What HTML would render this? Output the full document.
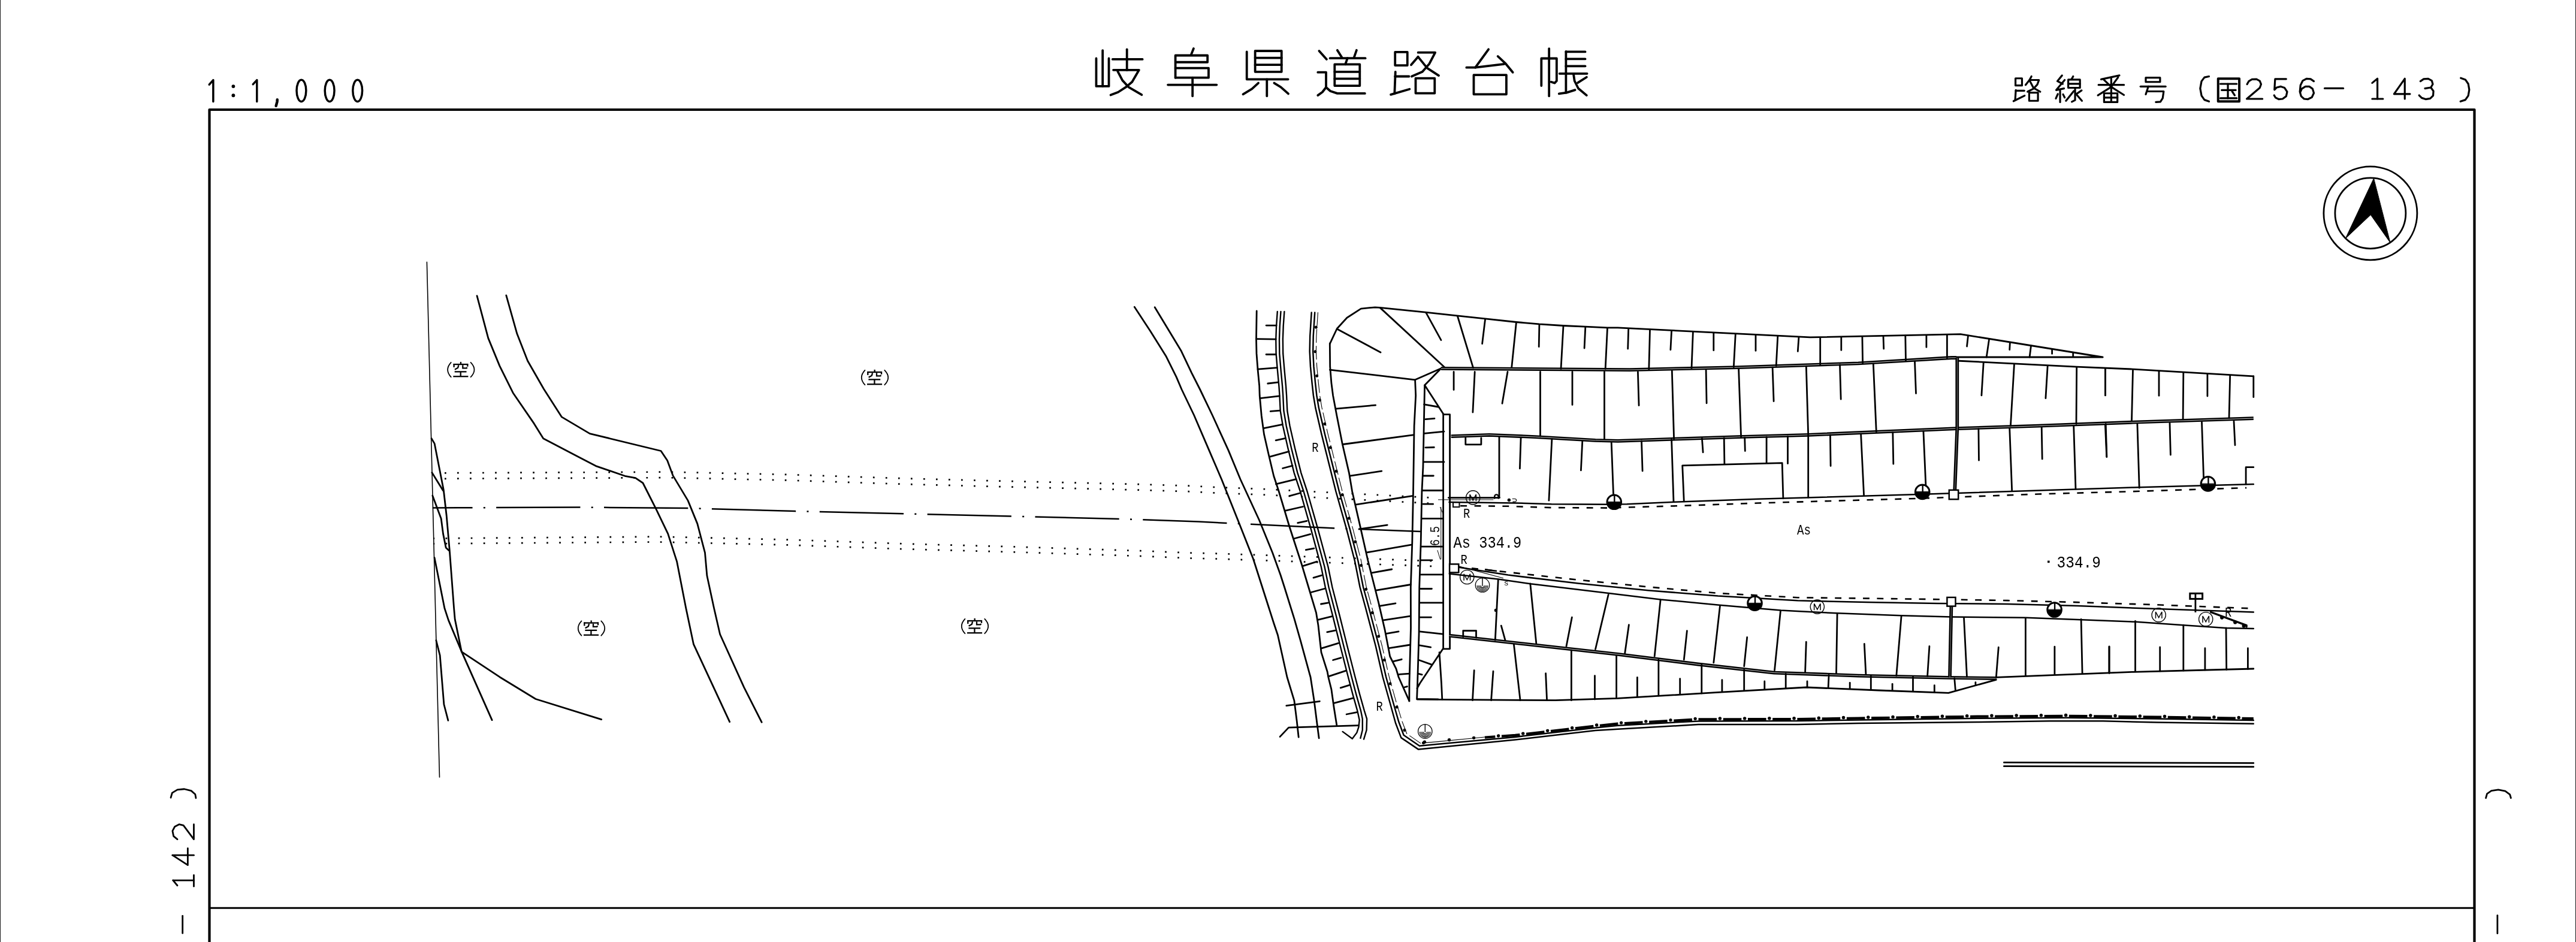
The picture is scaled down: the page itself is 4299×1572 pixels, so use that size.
<!DOCTYPE html>
<html><head><meta charset="utf-8"><title>岐阜県道路台帳</title>
<style>
html,body{margin:0;padding:0;background:#fff;}
body{width:4299px;height:1572px;overflow:hidden;font-family:"Liberation Sans",sans-serif;}
svg{display:block;will-change:transform;transform:translateZ(0)}
</style></head><body>
<svg width="4299" height="1572" viewBox="0 0 4299 1572" fill="none" stroke="#000" stroke-linecap="round" stroke-linejoin="round" font-family="Liberation Sans, sans-serif">
<rect x="0" y="0" width="4299" height="1572" fill="#fff" stroke="none"/>
<g stroke-linecap="butt" stroke-linejoin="miter">
<rect x="0" y="0" width="1.1" height="1572" fill="#2c2c2c" stroke="none"/>
<rect x="4297.9" y="0" width="1.1" height="1572" fill="#2c2c2c" stroke="none"/>
<polyline points="349.5,1572 349.5,183 4129.5,183 4129.5,1572" stroke-width="4.2" stroke-linejoin="round"/>
<line x1="349.5" y1="1515.2" x2="4129.5" y2="1515.2" stroke-width="3.0"/>
</g>
<g transform="translate(1800,60) scale(0.178571)" stroke-width="21.28" >
<polyline points="165,210 165,470 283,470 283,210"/>
<polyline points="225,135 225,470"/>
<polyline points="452,125 452,320"/>
<polyline points="318,218 597,218"/>
<polyline points="325,318 565,318 500,430 440,480 370,525 300,552"/>
<polyline points="365,330 410,415 470,480 590,550"/>
<polyline points="1075,118 1050,180"/>
<polyline points="905,390 905,182 1205,182 1205,245 905,245"/>
<polyline points="905,300 1215,300 1215,390 905,390"/>
<polyline points="835,457 1290,457"/>
<polyline points="1065,390 1065,562"/>
<polyline points="1572,148 1572,405 1958,405"/>
<polygon points="1650,140 1897,140 1897,335 1650,335"/>
<polyline points="1650,205 1897,205"/>
<polyline points="1650,270 1897,270"/>
<polyline points="1760,405 1760,562"/>
<polyline points="1680,440 1620,495 1537,545"/>
<polyline points="1828,440 1890,478 1960,540"/>
</g>
<g transform="translate(2180,60) scale(0.178571)" stroke-width="21.28" >
<polyline points="120,140 190,218"/>
<polyline points="290,133 335,205"/>
<polyline points="470,133 445,205"/>
<polyline points="222,208 552,208"/>
<polyline points="385,208 365,265"/>
<polygon points="265,265 500,265 500,465 265,465"/>
<polyline points="265,335 500,335"/>
<polyline points="265,400 500,400"/>
<polyline points="108,340 185,340 185,480 150,525 108,555"/>
<polyline points="185,480 225,515 290,537 548,537"/>
<polygon points="830,150 945,150 945,275 830,275"/>
<polyline points="833,335 825,540"/>
<polyline points="830,378 960,378"/>
<polyline points="790,548 965,497"/>
<polyline points="1045,155 1205,155 1150,260 1085,335 985,378"/>
<polyline points="1045,195 980,270"/>
<polyline points="1045,195 1130,300 1238,370"/>
<polygon points="1022,395 1200,395 1200,535 1022,535"/>
<polyline points="1703,125 1580,295"/>
<polyline points="1497,295 1580,295 1850,262"/>
<polyline points="1790,190 1860,255 1930,340"/>
<polygon points="1565,365 1870,365 1870,545 1565,545"/>
</g>
<g transform="translate(2500,60) scale(0.178571)" stroke-width="21.28" >
<polyline points="477,118 477,562"/>
<polyline points="405,465 405,210 548,210 548,420 530,440 497,430"/>
<polyline points="635,145 635,530"/>
<polyline points="635,148 815,148"/>
<polyline points="635,215 815,215"/>
<polyline points="635,282 815,282"/>
<polyline points="575,352 832,352"/>
<polyline points="570,540 640,530 720,505"/>
<polyline points="705,352 715,420 750,490 828,555"/>
<polyline points="828,385 745,437"/>
</g>
<g transform="translate(3350,115) scale(0.108696)" stroke-width="29.44" >
<polygon points="125,145 225,145 225,255 125,255"/>
<polyline points="130,325 120,480"/>
<polyline points="130,335 260,335"/>
<polyline points="95,495 265,410"/>
<polyline points="370,115 340,170 280,245"/>
<polyline points="340,170 485,170 460,240 400,305 310,350"/>
<polyline points="345,185 400,290 505,350"/>
<polygon points="335,365 470,365 470,490 335,490"/>
<polyline points="840,100 768,188 850,230"/>
<polyline points="880,170 750,325 870,300"/>
<polyline points="810,330 810,510"/>
<polyline points="775,385 745,455"/>
<polyline points="855,390 880,440"/>
<polyline points="1010,115 985,160"/>
<polygon points="935,165 1115,165 1115,290 935,290"/>
<polyline points="935,228 1115,228"/>
<polyline points="1040,290 1040,480 990,505"/>
<polyline points="1020,340 900,490"/>
<polyline points="1140,330 1060,385"/>
<polyline points="1050,380 1145,490"/>
<polyline points="1440,160 1720,100"/>
<polyline points="1400,245 1790,245"/>
<polyline points="1595,130 1595,500"/>
<polyline points="1700,130 1590,280 1390,405"/>
<polyline points="1480,165 1600,280 1790,400"/>
<polygon points="1485,375 1690,375 1690,510 1485,510"/>
<polyline points="1485,440 1690,440"/>
<polygon points="2125,135 2345,135 2345,200 2125,200"/>
<polyline points="2045,270 2430,270"/>
<polyline points="2165,270 2125,390"/>
<polyline points="2145,345 2400,345 2385,450 2350,505 2280,510"/>
</g>
<g transform="translate(3630,115) scale(0.108696)" stroke-width="29.44" >
<polyline points="520,115 450,130 405,190 385,300 405,410 450,475 520,500"/>
<polyline points="660,150 985,150 985,500 660,500 660,150" stroke-width="36.80"/>
<polyline points="695,230 945,230"/>
<polyline points="715,325 930,325"/>
<polyline points="810,230 810,450"/>
<polyline points="695,450 945,450"/>
<polyline points="875,345 915,405"/>
<polyline points="1105,235 1130,190 1180,160 1250,158 1300,185 1320,235 1300,290 1100,460 1340,460"/>
<polyline points="1705,155 1535,155 1525,320 1560,285 1620,270 1680,290 1720,350 1705,420 1650,460 1590,465 1540,440 1520,405"/>
<polyline points="2130,190 2080,155 2020,150 1960,180 1925,250 1915,350 1935,420 1980,460 2040,465 2100,435 2130,370 2110,305 2060,270 2000,270 1945,305 1920,360"/>
</g>
<g transform="translate(3860,115) scale(0.108696)" stroke-width="29.44" >
<polyline points="180,298 465,298"/>
<polyline points="910,215 990,150 990,460"/>
<polyline points="910,460 1075,460"/>
<polyline points="1490,385 1245,385 1410,150 1410,460"/>
<polyline points="1650,190 1700,155 1770,150 1825,180 1840,235 1810,285 1720,300"/>
<polyline points="1810,285 1850,340 1845,410 1800,455 1730,465 1670,445 1630,405"/>
<polyline points="2270,140 2340,165 2385,230 2400,320 2385,410 2340,475 2265,500"/>
</g>
<g transform="translate(330,115) scale(0.116455)" stroke-width="30.05" >
<polyline points="165,225 222,160 222,468"/>
<polyline points="792,220 848,160 848,468"/>
<circle cx="510" cy="250" r="25" fill="#000" stroke="none"/>
<circle cx="510" cy="380" r="25" fill="#000" stroke="none"/>
<polyline points="1140,440 1138,470 1122,530" stroke-width="38.64"/>
<ellipse cx="1485" cy="312" rx="68" ry="155"/>
<ellipse cx="1890" cy="312" rx="68" ry="155"/>
<ellipse cx="2290" cy="312" rx="68" ry="155"/>
</g>
<g transform="translate(270,1300) scale(0.289017)" stroke-width="9.69" >
<polyline points="52,108 60,80 90,62 130,58 170,68 193,88 197,110"/>
<polyline points="90,348 68,330 62,300 75,275 100,262 125,268 185,348 185,262"/>
<polyline points="62,440 185,440"/>
<polyline points="62,440 150,497 150,400"/>
<polyline points="65,585 185,585"/>
<polyline points="65,585 90,615"/>
<polyline points="185,555 185,620"/>
<polyline points="120,790 120,890"/>
</g>
<g transform="translate(4100,1300) scale(0.288850)" stroke-width="9.69" >
<polyline points="168,110 175,85 200,68 240,62 280,70 307,90 313,110"/>
<polyline points="235,788 235,892"/>
</g>
<g stroke-width="2.8"><circle cx="3955.9" cy="355.8" r="78"/><circle cx="3955.9" cy="355.8" r="59"/>
<polygon points="3961.4,297.9 3914.2,398.2 3956.3,358.5 3988.9,404.9" fill="#000" stroke-width="1"/></g>
<polyline points="712.4,437.4 733.5,1296.9" stroke-width="1.6" />
<polyline points="796.0,493.6 814.8,564.4 833.8,610.6 856.2,655.7 891.3,706.9 906.7,731.8 994.3,777.6 1042.8,794.3 1060.5,797.6 1072.9,806.0 1094.6,848.8 1114.7,890.6 1129.7,937.4 1144.8,1015.0 1157.5,1075.2 1217.7,1204.6" stroke-width="2.8" />
<polyline points="844.8,492.9 862.9,557.1 880.6,602.2 907.4,649.0 937.5,695.9 984.3,723.6 1103.0,752.5 1113.7,768.5 1123.0,793.6 1148.1,835.4 1163.8,873.9 1176.5,922.4 1179.9,960.8 1191.6,1015.0 1201.6,1058.5 1241.7,1147.1 1271.2,1205.3" stroke-width="2.8" />
<polyline points="720.1,731.8 725.1,740.1 740.2,817.0 745.2,860.5 750.2,917.3 757.6,1015.0 759.2,1033.4 770.3,1087.6 833.8,1129.7 894.0,1166.5 1003.7,1200.6" stroke-width="2.8" />
<polyline points="720.8,788.6 739.5,818.7" stroke-width="2.8" />
<polyline points="721.8,827.1 736.2,865.5 739.5,890.6 744.2,914.0 749.5,919.0" stroke-width="2.8" />
<polyline points="725.1,930.7 741.9,1015.0 748.5,1035.1 770.9,1088.6 821.1,1201.6" stroke-width="2.8" />
<polyline points="727.8,1068.5 734.2,1093.6 740.9,1175.5 747.9,1202.3" stroke-width="2.8" />
<polyline points="742.0,789.3 1114.7,787.6 1315.3,792.0 1507.8,798.4 1694.1,803.3 1888.2,807.8 1983.3,810.7 2025.0,812.9 2108.3,816.1 2190.7,820.4 2398.0,831.0" stroke-width="2.7" stroke-dasharray="2.7 18.33" stroke-linecap="butt"/>
<polyline points="742.0,798.8 1114.7,797.1 1315.3,801.5 1507.8,807.9 1694.1,812.8 1888.2,817.3 1983.3,820.2 2025.0,822.4 2108.3,825.6 2190.7,829.9 2398.0,840.5" stroke-width="2.7" stroke-dasharray="2.7 18.33" stroke-linecap="butt"/>
<polyline points="723.5,898.5 1098.0,895.6 1315.3,900.6 1511.1,907.5 1697.0,912.6 1903.7,919.2 1986.2,922.7 2028.5,923.7 2235.8,930.8 2403.0,936.6" stroke-width="2.7" stroke-dasharray="2.7 18.37" stroke-linecap="butt" stroke-dashoffset="1"/>
<polyline points="723.5,907.3 1098.0,904.4 1315.3,909.4 1511.1,916.3 1697.0,921.4 1903.7,928.0 1986.2,931.5 2028.5,932.5 2235.8,939.6 2403.0,945.4" stroke-width="2.7" stroke-dasharray="2.7 18.37" stroke-linecap="butt" stroke-dashoffset="1"/>
<polyline points="721.8,847.5 967.6,846.5 1148.1,848.1 1327.0,853.1 1507.6,857.2 1547.6,858.2 1687.9,861.5 1868.8,866.0 2000.0,870.6 2087.1,874.8 2229.0,881.5 2371.6,887.0" stroke-width="2.5" stroke-dasharray="140.3 18.3 3 18.3" stroke-dashoffset="73.56" stroke-linecap="butt"/>
<polyline points="1893.3,512.2 1919.9,552.7 1946.3,595.1 1963.2,629.1 1972.1,650.0 1992.5,692.5 2018.0,751.9 2038.7,800.0 2065.9,868.0 2091.4,932.5 2094.0,940.5 2117.5,1014.0 2125.8,1040.0 2132.5,1060.0 2148.0,1130.0 2159.9,1169.1 2164.2,1203.1 2167.2,1230.2" stroke-width="2.8" />
<polyline points="1927.2,512.7 1951.4,552.7 1970.9,584.9 1988.7,622.3 2002.7,650.0 2023.1,692.5 2050.2,751.9 2070.1,800.0 2101.5,868.0 2123.6,922.3 2137.2,960.0 2143.6,980.0 2160.0,1032.7 2170.2,1068.3 2185.5,1124.4 2187.1,1130.0 2193.1,1169.1 2198.5,1211.5 2201.2,1231.9" stroke-width="2.8" />
<polyline points="2097.2,519.0 2096.5,566.1 2097.0,589.9 2099.0,616.2 2101.7,644.2 2102.2,660.0 2105.3,694.0 2109.5,724.6 2117.2,758.5 2125.7,794.2 2134.2,820.0 2152.1,879.5 2172.5,942.3 2183.8,980.0 2196.5,1022.5 2199.9,1042.9 2205.0,1088.7 2215.2,1121.0 2216.8,1130.0 2221.9,1150.4 2226.2,1181.0 2230.8,1209.9" stroke-width="2.8" />
<polyline points="2131.8,519.9 2130.1,544.0 2129.3,566.1 2129.6,589.9 2131.8,616.2 2134.4,644.2 2135.5,660.0 2136.7,685.5 2141.0,711.0 2149.5,748.3 2159.7,789.1 2169.9,820.0 2187.8,882.9 2204.8,945.7 2211.8,980.0 2223.7,1025.9 2237.3,1080.2 2250.0,1130.0 2257.6,1158.9 2265.3,1186.1 2268.7,1201.4 2267.5,1213.2 2264.4,1222.6 2256.8,1232.8 2240.6,1220.9" stroke-width="2.4" />
<polyline points="2137.5,519.9 2135.8,544.0 2135.0,566.1 2135.3,589.9 2137.5,616.2 2140.1,644.2 2141.2,660.0 2142.4,685.5 2146.7,711.0 2155.2,748.3 2165.4,789.1 2175.6,820.0 2193.5,882.9 2210.5,945.7 2217.5,980.0 2229.4,1025.9 2243.0,1080.2 2255.7,1130.0 2263.3,1158.9 2271.0,1186.1 2273.8,1199.7 2273.8,1218.3 2270.4,1231.9" stroke-width="2.4" />
<polyline points="2143.4,519.9 2141.7,544.0 2140.9,566.1 2141.2,589.9 2143.4,616.2 2146.0,644.2 2147.1,660.0 2148.3,685.5 2152.6,711.0 2161.1,748.3 2171.3,789.1 2181.5,820.0 2199.4,882.9 2216.4,945.7 2223.4,980.0 2235.3,1025.9 2248.9,1080.2 2261.6,1130.0 2269.2,1158.9 2276.9,1186.1 2281.1,1199.7 2280.6,1218.3 2276.0,1233.6" stroke-width="2.4" />
<polyline points="2188.7,521.6 2186.2,561.0 2185.7,586.5 2187.0,611.9 2189.6,639.1 2191.9,660.0 2195.3,680.4 2205.5,724.6 2217.4,772.1 2229.4,820.0 2247.2,882.9 2260.8,935.5 2269.6,980.0 2278.9,1014.0 2295.9,1078.5 2307.7,1130.0 2319.6,1172.5 2329.0,1206.5 2338.3,1231.1 2367.2,1250.6 2400.0,1247.2 2528.7,1234.6 2662.5,1218.9 2700.0,1216.7 2834.3,1209.1 3000.0,1208.9 3101.0,1207.0 3300.0,1205.0 3420.0,1203.3 3510.0,1203.3 3600.0,1205.6 3760.8,1207.7" stroke-width="2.5" />
<polyline points="2194.2,521.6 2191.7,561.0 2191.2,586.5 2192.5,611.9 2195.1,639.1 2197.4,660.0 2200.8,680.4 2211.0,724.6 2222.9,772.1 2234.9,820.0 2252.7,882.9 2266.3,935.5 2275.1,980.0 2284.4,1014.0 2301.4,1078.5 2313.2,1130.0 2325.1,1172.5 2334.4,1204.8 2342.6,1226.8 2368.9,1244.7 2400.0,1241.8 2528.7,1229.9 2662.5,1214.5 2700.0,1210.7 2834.3,1203.4 3000.0,1203.0 3101.0,1201.5 3300.0,1198.7 3450.0,1197.8 3600.0,1199.6 3760.8,1202.1" stroke-width="2.5" />
<polyline points="2199.4,521.6 2196.9,561.0 2196.4,586.5 2197.7,611.9 2200.3,639.1 2202.6,660.0 2206.0,680.4 2216.2,724.6 2228.1,772.1 2240.1,820.0 2257.9,882.9 2271.5,935.5 2280.3,980.0 2289.6,1014.0 2306.6,1078.5 2318.4,1130.0 2330.3,1172.5 2340.0,1204.0 2347.8,1224.5 2371.0,1240.5 2378.9,1239.6" stroke-width="1.1" stroke-dasharray="22 6" />
<polyline points="2197.9,521.6 2195.4,561.0 2194.9,586.5 2196.2,611.9 2198.8,639.1 2201.1,660.0 2204.5,680.4 2214.7,724.6 2226.6,772.1 2238.6,820.0 2256.4,882.9 2270.0,935.5 2278.8,980.0 2288.1,1014.0 2305.1,1078.5 2316.9,1130.0 2328.8,1172.5 2338.5,1204.0 2346.3,1224.5 2369.5,1240.5 2377.4,1239.6" stroke-width="5" stroke-dasharray="0.1 40.55" stroke-linecap="round" stroke-dashoffset="-24.5"/>
<polyline points="2377.4,1239.6 2400.0,1237.6 2478.0,1230.0" stroke-width="1.2" />
<polyline points="2478.0,1230.6 2528.7,1226.9 2662.5,1211.5 2700.0,1207.7 2834.3,1200.4 3000.0,1200.0 3101.0,1198.5 3300.0,1195.7 3450.0,1194.8 3600.0,1196.6 3760.8,1199.1" stroke-width="4.2" stroke-dasharray="30.63 10.6" stroke-linecap="butt" stroke-dashoffset="13.19"/>
<polyline points="2377.4,1238.3 2400.0,1236.3 2528.7,1225.6 2662.5,1210.2 2700.0,1206.4 2834.3,1199.1 3000.0,1198.7 3101.0,1197.2 3300.0,1194.4 3450.0,1193.5 3600.0,1195.3 3760.8,1197.8" stroke-width="5.4" stroke-dasharray="0.1 41.132" stroke-linecap="round" stroke-dashoffset="0.05"/>
<polyline points="2219.4,573.6 2219.3,572.9 2219.7,611.9 2221.9,639.1 2224.6,660.0 2231.0,694.0 2240.4,741.5 2251.4,789.1 2256.6,820.0 2271.0,882.9 2282.9,935.5 2294.2,980.0 2301.0,1007.2 2311.2,1051.4 2319.7,1095.5 2329.9,1115.9 2334.1,1130.0 2351.9,1169.9" stroke-width="2.8" />
<polyline points="2219.4,573.6 2231.2,548.5 2247.9,530.2 2271.3,515.1 2294.7,512.8 2303.0,513.4 2376.6,520.8 2431.8,526.8 2478.6,531.8 2530.4,537.5 2568.9,540.9 2609.0,543.5 2645.8,545.2 2682.5,546.9 2700.0,546.9 3021.0,562.9 3271.8,557.6 3509.2,596.0 3265.1,596.0" stroke-width="2.8" />
<polyline points="2219.4,617.1 2361.6,633.8 2405.0,614.8" stroke-width="2.8" />
<polyline points="2361.6,633.8 2362.7,660.0 2360.1,711.0 2358.5,820.0 2356.8,905.0 2354.3,980.0 2354.5,1048.0 2352.0,1140.0 2351.9,1169.9" stroke-width="2.8" />
<polyline points="2405.0,614.8 2377.6,642.8 2374.9,780.0 2372.9,820.0 2371.2,905.0 2368.7,980.0 2368.1,1056.5 2365.6,1140.0 2364.6,1166.5 2400.0,1166.8" stroke-width="2.8" />
<polyline points="2377.6,642.8 2408.7,690.7 2408.6,700.0 2408.6,1082.0 2369.8,1140.0 2364.9,1148.7" stroke-width="2.8" />
<polyline points="2408.6,691.7 2419.6,691.7 2419.6,1082.8 2408.6,1082.8" stroke-width="2.8" />
<polyline points="2402.1,1088.7 2405.5,1140.0 2406.8,1167.0" stroke-width="2.8" />
<polyline points="2303.0,513.4 2411.7,613.7" stroke-width="2.8" />
<polyline points="2231.8,549.2 2304.0,588.0" stroke-width="2.8" />
<polyline points="2405.0,614.8 2720.0,617.1 2900.6,613.1 3101.2,606.4 3256.7,597.0 3265.1,597.0" stroke-width="5.8" stroke-linecap="butt"/>
<polyline points="2405.0,614.8 2720.0,617.1 2900.6,613.1 3101.2,606.4 3256.7,597.0 3265.1,597.0" stroke-width="1.0" stroke="#c8c8c8" stroke-linecap="butt"/>
<polyline points="3265.1,602.0 3465.7,612.1 3560.0,616.1 3760.8,627.9" stroke-width="2.8" />
<polyline points="3760.8,627.9 3760.8,662.7" stroke-width="2.8" />
<polyline points="2421.7,728.1 2485.3,725.8 2562.2,729.1 2662.5,734.8 2700.0,735.8 2900.6,729.1 3017.7,725.8 3265.1,715.1 3402.2,710.7 3560.0,704.7 3760.8,698.1" stroke-width="5.8" stroke-linecap="butt"/>
<polyline points="2421.7,728.1 2485.3,725.8 2562.2,729.1 2662.5,734.8 2700.0,735.8 2900.6,729.1 3017.7,725.8 3265.1,715.1 3402.2,710.7 3560.0,704.7 3760.8,698.1" stroke-width="1.0" stroke="#c8c8c8" stroke-linecap="butt"/>
<polyline points="2417.4,830.6 2502.6,830.6" stroke-width="2.8" />
<polyline points="2400.4,833.9 2492.0,833.9" stroke-width="1.0" />
<polyline points="2418.5,838.0 2530.8,839.4 2589.2,841.3 2680.3,841.8 2715.3,841.3 2794.7,837.8 2934.1,832.8 3201.6,825.1 3402.2,818.5 3560.0,813.4 3760.8,808.1" stroke-width="2.5" />
<polyline points="2437.2,844.1 2516.8,844.8 2589.2,847.1 2680.3,847.6 2797.0,844.3 2934.1,839.5 3201.6,831.8 3402.2,824.5 3560.0,820.1 3749.1,814.1" stroke-width="2.6" stroke-dasharray="10.9 12.5" stroke-linecap="butt"/>
<polyline points="2456.1,948.3 2516.8,954.9 2633.6,967.7 2750.3,979.4 2867.1,989.9 3000.0,997.2 3116.8,998.6 3249.9,1000.4 3350.3,1002.1 3467.1,1005.1 3600.0,1009.3 3760.8,1015.5" stroke-width="2.6" stroke-dasharray="10.9 12.5" stroke-linecap="butt"/>
<polyline points="2435.0,946.7 2516.8,959.6 2633.6,973.6 2750.3,985.2 2867.1,994.6 3000.0,1002.2 3116.8,1005.1 3233.6,1007.0 3350.3,1007.9 3467.1,1010.9 3600.0,1016.1 3760.8,1021.5" stroke-width="2.5" />
<polyline points="2418.7,957.4 2500.4,966.6 2554.1,974.3 2684.9,989.9 2771.3,1000.4 2869.4,1009.8 2972.2,1018.6 3000.0,1020.0 3065.4,1023.3 3172.8,1027.3 3256.9,1029.6 3380.7,1030.8 3474.1,1034.3 3565.2,1037.8 3643.8,1043.2 3714.0,1047.9 3760.8,1048.9" stroke-width="2.5" />
<polyline points="2418.4,1060.7 2700.0,1091.8 2833.7,1108.5 2960.8,1122.6 3101.2,1127.6 3251.7,1130.9 3332.0,1132.0" stroke-width="5.8" stroke-linecap="butt"/>
<polyline points="2418.4,1060.7 2700.0,1091.8 2833.7,1108.5 2960.8,1122.6 3101.2,1127.6 3251.7,1130.9 3332.0,1132.0" stroke-width="1.0" stroke="#c8c8c8" stroke-linecap="butt"/>
<polyline points="2364.9,1167.1 2595.6,1168.7 2700.0,1165.4 2867.2,1155.4 3014.3,1147.0 3134.7,1152.0 3251.7,1156.4 3331.3,1134.3" stroke-width="2.8" />
<polyline points="3331.3,1130.3 3560.0,1121.3 3760.8,1116.0" stroke-width="2.8" />
<polyline points="3344.4,1272.4 3760.8,1273.4" stroke-width="2.8" />
<polyline points="3344.4,1278.7 3760.8,1279.7" stroke-width="2.8" />
<polyline points="2113.1,543.1 2130.1,543.1" stroke-width="2.8" />
<polyline points="2097.0,565.6 2129.3,566.1" stroke-width="2.8" />
<polyline points="2113.1,591.5 2129.6,591.5" stroke-width="2.8" />
<polyline points="2099.0,616.2 2131.3,613.6" stroke-width="2.8" />
<polyline points="2115.7,640.0 2133.5,637.8" stroke-width="2.8" />
<polyline points="2102.9,664.6 2135.2,660.9" stroke-width="2.8" />
<polyline points="2120.2,686.3 2135.9,685.1" stroke-width="2.8" />
<polyline points="2109.0,714.7 2140.1,708.4" stroke-width="2.8" />
<polyline points="2129.1,734.8 2145.2,731.4" stroke-width="2.8" />
<polyline points="2118.5,762.4 2151.2,753.4" stroke-width="2.8" />
<polyline points="2140.6,781.5 2157.1,777.2" stroke-width="2.8" />
<polyline points="2129.4,807.8 2163.1,799.7" stroke-width="2.8" />
<polyline points="2152.1,827.6 2170.8,822.5" stroke-width="2.8" />
<polyline points="2144.4,852.3 2174.5,845.5" stroke-width="2.8" />
<polyline points="2165.7,872.7 2181.0,869.3" stroke-width="2.8" />
<polyline points="2158.9,899.0 2186.9,891.4" stroke-width="2.8" />
<polyline points="2179.3,917.7 2192.9,915.1" stroke-width="2.8" />
<polyline points="2173.3,944.9 2198.0,937.2" stroke-width="2.8" />
<polyline points="2192.0,964.1 2205.6,960.2" stroke-width="2.8" />
<polyline points="2188.0,988.5 2211.8,982.0" stroke-width="2.8" />
<polyline points="2204.5,1008.0 2216.9,1005.8" stroke-width="2.8" />
<polyline points="2199.4,1034.4 2223.7,1028.4" stroke-width="2.8" />
<polyline points="2214.7,1054.8 2228.0,1052.2" stroke-width="2.8" />
<polyline points="2205.5,1081.9 2233.4,1073.4" stroke-width="2.8" />
<polyline points="2224.6,1101.5 2238.2,1097.6" stroke-width="2.8" />
<polyline points="2217.8,1128.7 2245.8,1119.3" stroke-width="2.8" />
<polyline points="2237.2,1147.8 2251.7,1143.3" stroke-width="2.8" />
<polyline points="2226.2,1173.3 2258.5,1164.8" stroke-width="2.8" />
<polyline points="2247.1,1192.0 2264.4,1188.6" stroke-width="2.8" />
<polyline points="2146.8,1177.6 2202.4,1170.3" stroke-width="2.8" />
<polyline points="2136.1,1229.4 2150.6,1214.1 2267.0,1210.7" stroke-width="2.8" />
<polyline points="2229.3,682.1 2295.6,676.1" stroke-width="2.8" />
<polyline points="2241.2,741.5 2358.4,725.9" stroke-width="2.8" />
<polyline points="2253.1,794.2 2305.8,786.1" stroke-width="2.8" />
<polyline points="2262.5,842.1 2356.8,827.6" stroke-width="2.8" />
<polyline points="2268.5,882.9 2315.2,876.1" stroke-width="2.8" />
<polyline points="2281.2,921.9 2355.1,909.2" stroke-width="2.8" />
<polyline points="2289.7,955.9 2322.8,950.0" stroke-width="2.8" />
<polyline points="2296.8,985.1 2354.3,975.5" stroke-width="2.8" />
<polyline points="2301.9,1011.4 2329.0,1006.8" stroke-width="2.8" />
<polyline points="2307.8,1035.2 2353.7,1028.1" stroke-width="2.8" />
<polyline points="2313.8,1057.3 2334.1,1053.9" stroke-width="2.8" />
<polyline points="2318.0,1081.6 2353.7,1076.0" stroke-width="2.8" />
<polyline points="2325.6,1103.7 2339.2,1100.3" stroke-width="2.8" />
<polyline points="2335.0,1125.3 2352.0,1124.1" stroke-width="2.8" />
<polyline points="2343.4,1147.0 2348.5,1145.6" stroke-width="2.8" />
<polyline points="2376.6,674.9 2400.0,679.0" stroke-width="2.8" />
<polyline points="2378.9,699.7 2394.0,698.3" stroke-width="2.8" />
<polyline points="2376.6,723.4 2410.0,720.1" stroke-width="2.8" />
<polyline points="2378.9,746.8 2393.3,746.5" stroke-width="2.8" />
<polyline points="2376.6,770.9 2410.0,770.9" stroke-width="2.8" />
<polyline points="2374.9,794.0 2392.3,794.0" stroke-width="2.8" />
<polyline points="2374.3,818.5 2408.4,818.5" stroke-width="2.8" />
<polyline points="2374.9,841.2 2391.6,841.2" stroke-width="2.8" />
<polyline points="2373.3,865.3 2408.4,865.3" stroke-width="2.8" />
<polyline points="2371.6,912.1 2408.4,912.1" stroke-width="2.8" />
<polyline points="2371.6,934.8 2390.0,934.8" stroke-width="2.8" />
<polyline points="2370.9,958.9 2408.4,958.9" stroke-width="2.8" />
<polyline points="2370.7,982.5 2389.4,982.5" stroke-width="2.8" />
<polyline points="2369.8,1005.8 2408.0,1005.8" stroke-width="2.8" />
<polyline points="2369.8,1030.1 2388.5,1030.1" stroke-width="2.8" />
<polyline points="2369.3,1053.9 2408.0,1058.2" stroke-width="2.8" />
<polyline points="2369.0,1076.8 2387.7,1080.2" stroke-width="2.8" />
<polyline points="2368.1,1101.5 2389.4,1109.1" stroke-width="2.8" />
<polyline points="2367.3,1124.4 2373.2,1125.8" stroke-width="2.8" />
<polyline points="2379.9,521.8 2405.0,567.6" stroke-width="2.8" />
<polyline points="2432.4,527.5 2458.5,613.7" stroke-width="2.8" />
<polyline points="2478.6,532.5 2473.6,573.6" stroke-width="2.8" />
<polyline points="2530.4,538.5 2522.7,613.7" stroke-width="2.8" />
<polyline points="2568.9,541.9 2568.2,578.6" stroke-width="2.8" />
<polyline points="2609.0,544.2 2605.0,615.4" stroke-width="2.8" />
<polyline points="2645.8,545.9 2644.1,581.0" stroke-width="2.8" />
<polyline points="2682.5,547.5 2679.2,615.4" stroke-width="2.8" />
<polyline points="2426.1,620.4 2426.1,650.5" stroke-width="2.8" />
<polyline points="2461.2,620.4 2457.9,688.0" stroke-width="2.8" />
<polyline points="2516.0,620.4 2507.0,673.3" stroke-width="2.8" />
<polyline points="2570.5,620.4 2570.5,728.1" stroke-width="2.8" />
<polyline points="2624.0,620.4 2624.0,675.6" stroke-width="2.8" />
<polyline points="2677.5,620.4 2677.5,732.4" stroke-width="2.8" />
<polyline points="2445.8,730.8 2445.8,741.8 2471.9,741.8 2471.9,730.8" stroke-width="2.8" />
<polyline points="2717.7,548.5 2716.7,582.0" stroke-width="2.8" />
<polyline points="2753.5,550.2 2751.8,616.4" stroke-width="2.8" />
<polyline points="2789.6,551.9 2787.9,583.7" stroke-width="2.8" />
<polyline points="2825.4,553.6 2823.0,614.4" stroke-width="2.8" />
<polyline points="2859.8,556.2 2859.8,584.7" stroke-width="2.8" />
<polyline points="2896.3,557.6 2893.3,612.7" stroke-width="2.8" />
<polyline points="2930.0,559.6 2930.0,585.3" stroke-width="2.8" />
<polyline points="2966.8,561.3 2964.2,610.4" stroke-width="2.8" />
<polyline points="3001.9,563.6 3000.3,586.3" stroke-width="2.8" />
<polyline points="3037.7,563.6 3037.7,608.7" stroke-width="2.8" />
<polyline points="3072.8,562.9 3072.8,584.3" stroke-width="2.8" />
<polyline points="3107.9,562.6 3108.6,606.4" stroke-width="2.8" />
<polyline points="3143.0,561.3 3143.7,582.0" stroke-width="2.8" />
<polyline points="3179.8,560.2 3180.5,602.0" stroke-width="2.8" />
<polyline points="3214.9,559.6 3214.9,579.3" stroke-width="2.8" />
<polyline points="3249.4,558.6 3249.4,597.0" stroke-width="2.8" />
<polyline points="3284.5,560.2 3282.5,578.0" stroke-width="2.8" />
<polyline points="3319.6,565.9 3315.2,596.0" stroke-width="2.8" />
<polyline points="3354.4,571.3 3353.7,583.7" stroke-width="2.8" />
<polyline points="3389.5,577.0 3387.1,596.0" stroke-width="2.8" />
<polyline points="3424.6,582.7 3424.6,590.3" stroke-width="2.8" />
<polyline points="3459.7,588.7 3459.7,594.7" stroke-width="2.8" />
<polyline points="2733.4,620.4 2735.1,676.6" stroke-width="2.8" />
<polyline points="2790.3,618.8 2793.6,732.4" stroke-width="2.8" />
<polyline points="2847.1,617.1 2848.1,672.9" stroke-width="2.8" />
<polyline points="2901.6,615.4 2905.6,729.1" stroke-width="2.8" />
<polyline points="2958.1,613.1 2960.1,669.6" stroke-width="2.8" />
<polyline points="3014.3,611.1 3017.7,725.8" stroke-width="2.8" />
<polyline points="3070.5,608.7 3072.2,666.2" stroke-width="2.8" />
<polyline points="3126.3,607.1 3131.3,720.7" stroke-width="2.8" />
<polyline points="3195.5,603.0 3197.5,656.5" stroke-width="2.8" />
<polyline points="3310.2,605.4 3306.9,659.9" stroke-width="2.8" />
<polyline points="3361.4,608.7 3355.4,710.7" stroke-width="2.8" />
<polyline points="3417.2,610.4 3413.9,664.6" stroke-width="2.8" />
<polyline points="3465.7,612.7 3465.0,707.4" stroke-width="2.8" />
<polyline points="3513.5,614.8 3513.5,659.9" stroke-width="2.8" />
<polyline points="3513.4,615.2 3513.4,659.6" stroke-width="2.8" />
<polyline points="3559.5,617.5 3557.5,702.1" stroke-width="2.8" />
<polyline points="3603.0,620.2 3603.0,660.3" stroke-width="2.8" />
<polyline points="3643.8,621.9 3643.1,699.8" stroke-width="2.8" />
<polyline points="3683.9,624.2 3683.9,661.0" stroke-width="2.8" />
<polyline points="3721.7,626.2 3720.0,697.8" stroke-width="2.8" />
<polyline points="3513.4,709.8 3515.7,762.3" stroke-width="2.8" />
<polyline points="3566.9,707.8 3570.2,814.1" stroke-width="2.8" />
<polyline points="3621.0,706.1 3622.4,759.0" stroke-width="2.8" />
<polyline points="3674.5,704.4 3677.9,807.4" stroke-width="2.8" />
<polyline points="3728.0,702.8 3730.0,742.9" stroke-width="2.8" />
<polyline points="3748.1,808.1 3748.1,779.7 3760.8,779.7" stroke-width="2.8" />
<polyline points="2739.5,735.8 2741.1,785.9" stroke-width="2.8" />
<polyline points="2789.6,733.5 2793.0,837.5" stroke-width="2.8" />
<polyline points="2840.4,731.4 2842.1,754.9" stroke-width="2.8" />
<polyline points="2911.7,730.1 2912.3,752.5" stroke-width="2.8" />
<polyline points="2983.5,728.1 2983.5,773.6" stroke-width="2.8" />
<polyline points="2877.2,730.8 2877.9,774.2" stroke-width="2.8" />
<polyline points="2948.1,729.1 2948.1,772.6" stroke-width="2.8" />
<polyline points="2810.3,836.8 2807.7,776.9 2974.2,772.6 2975.9,831.8" stroke-width="2.8" />
<polyline points="3017.7,726.8 3017.7,830.2" stroke-width="2.8" />
<polyline points="3054.4,725.8 3055.1,777.6" stroke-width="2.8" />
<polyline points="3105.6,724.1 3110.6,826.8" stroke-width="2.8" />
<polyline points="3158.8,721.4 3159.8,774.2" stroke-width="2.8" />
<polyline points="3209.9,719.1 3213.9,810.1" stroke-width="2.8" />
<polyline points="3301.9,715.7 3302.5,768.2" stroke-width="2.8" />
<polyline points="3353.7,714.1 3357.7,819.5" stroke-width="2.8" />
<polyline points="3407.2,712.4 3408.2,765.9" stroke-width="2.8" />
<polyline points="3460.7,710.7 3464.0,816.1" stroke-width="2.8" />
<polyline points="3514.2,707.4 3515.9,762.5" stroke-width="2.8" />
<polyline points="2502.0,729.1 2502.0,830.2" stroke-width="2.8" />
<polyline points="2538.1,730.8 2536.4,781.9" stroke-width="2.8" />
<polyline points="2589.9,732.4 2584.9,835.2" stroke-width="2.8" />
<polyline points="2640.8,735.8 2638.4,784.9" stroke-width="2.8" />
<polyline points="2689.2,737.5 2692.6,826.8" stroke-width="2.8" />
<polyline points="2771.2,1000.7 2761.2,1095.2" stroke-width="2.8" />
<polyline points="2870.5,1010.7 2859.8,1105.9" stroke-width="2.8" />
<polyline points="2971.5,1019.1 2961.5,1118.6" stroke-width="2.8" />
<polyline points="3066.1,1024.1 3064.5,1123.6" stroke-width="2.8" />
<polyline points="3173.1,1028.1 3164.8,1127.6" stroke-width="2.8" />
<polyline points="3277.5,1030.8 3282.5,1129.6" stroke-width="2.8" />
<polyline points="3380.4,1032.4 3380.4,1127.6" stroke-width="2.8" />
<polyline points="3473.1,1033.5 3475.1,1123.6" stroke-width="2.8" />
<polyline points="2718.4,1042.7 2711.7,1090.2" stroke-width="2.8" />
<polyline points="2815.4,1052.7 2810.3,1100.9" stroke-width="2.8" />
<polyline points="2915.7,1063.4 2910.7,1111.9" stroke-width="2.8" />
<polyline points="3014.3,1071.1 3012.6,1121.3" stroke-width="2.8" />
<polyline points="3111.3,1074.4 3113.9,1125.3" stroke-width="2.8" />
<polyline points="3219.9,1078.5 3216.6,1128.6" stroke-width="2.8" />
<polyline points="3335.3,1080.1 3331.3,1130.3" stroke-width="2.8" />
<polyline points="3428.9,1079.1 3428.9,1125.3" stroke-width="2.8" />
<polyline points="3519.9,1079.1 3519.9,1122.6" stroke-width="2.8" />
<polyline points="2732.4,1130.3 2732.4,1163.0" stroke-width="2.8" />
<polyline points="2767.9,1100.9 2767.9,1161.0" stroke-width="2.8" />
<polyline points="2803.7,1132.6 2803.7,1158.7" stroke-width="2.8" />
<polyline points="2839.8,1109.5 2839.8,1157.0" stroke-width="2.8" />
<polyline points="2873.9,1134.6 2873.9,1154.7" stroke-width="2.8" />
<polyline points="2910.7,1117.6 2910.7,1152.7" stroke-width="2.8" />
<polyline points="2944.8,1137.0 2944.8,1150.3" stroke-width="2.8" />
<polyline points="2980.2,1124.3 2980.2,1148.7" stroke-width="2.8" />
<polyline points="3016.0,1137.0 3016.0,1147.0" stroke-width="2.8" />
<polyline points="3052.1,1126.3 3051.1,1148.0" stroke-width="2.8" />
<polyline points="3087.2,1139.3 3087.2,1149.7" stroke-width="2.8" />
<polyline points="3122.3,1127.6 3122.3,1151.3" stroke-width="2.8" />
<polyline points="3158.1,1141.3 3158.1,1152.7" stroke-width="2.8" />
<polyline points="3192.5,1129.6 3192.5,1153.7" stroke-width="2.8" />
<polyline points="3228.3,1143.7 3228.3,1155.4" stroke-width="2.8" />
<polyline points="3261.7,1132.0 3263.4,1152.0" stroke-width="2.8" />
<polyline points="3296.9,1138.6 3296.9,1142.0" stroke-width="2.8" />
<polyline points="3563.5,1036.5 3563.5,1120.8" stroke-width="2.8" />
<polyline points="3643.8,1043.2 3643.8,1119.1" stroke-width="2.8" />
<polyline points="3715.0,1047.9 3715.7,1117.5" stroke-width="2.8" />
<polyline points="3520.1,1079.0 3520.1,1123.5" stroke-width="2.8" />
<polyline points="3604.7,1080.0 3604.7,1120.1" stroke-width="2.8" />
<polyline points="3679.9,1081.7 3679.9,1118.1" stroke-width="2.8" />
<polyline points="3751.4,1081.7 3751.4,1116.5" stroke-width="2.8" />
<polyline points="2500.3,967.2 2495.3,1068.2" stroke-width="2.8" />
<polyline points="2553.8,973.9 2563.8,1073.4" stroke-width="2.8" />
<polyline points="2684.2,992.3 2662.5,1083.5" stroke-width="2.8" />
<polyline points="2623.4,1030.1 2614.0,1078.5" stroke-width="2.8" />
<polyline points="2505.3,1044.2 2512.0,1068.4" stroke-width="2.8" />
<polyline points="2441.8,1062.5 2441.8,1052.5 2463.5,1052.5 2463.5,1064.2" stroke-width="2.8" />
<polyline points="2526.4,1075.1 2537.1,1168.7" stroke-width="2.8" />
<polyline points="2622.4,1085.1 2622.4,1168.7" stroke-width="2.8" />
<polyline points="2697.6,1093.5 2697.6,1164.4" stroke-width="2.8" />
<polyline points="2460.2,1118.6 2457.5,1168.7" stroke-width="2.8" />
<polyline points="2492.0,1120.2 2488.6,1168.7" stroke-width="2.8" />
<polyline points="2579.6,1123.6 2581.6,1168.7" stroke-width="2.8" />
<polyline points="2661.5,1127.6 2661.5,1167.1" stroke-width="2.8" />
<circle cx="2496.3" cy="1018.4" r="2.6" fill="#000" stroke="none"/>
<polyline points="3266.3,597.0 3266.3,714.0 3262.3,818.0" stroke-width="5.8" stroke-linecap="butt"/><polyline points="3266.3,597.0 3266.3,714.0 3262.3,818.0" stroke-width="0.7" stroke="#bbb" stroke-linecap="butt"/>
<polyline points="3256.4,1011.6 3254.0,1130.3" stroke-width="5.8" stroke-linecap="butt"/><polyline points="3256.4,1011.6 3254.0,1130.3" stroke-width="0.7" stroke="#bbb" stroke-linecap="butt"/>
<g><circle cx="2693.8" cy="837.8" r="11.8" fill="#fff" stroke-width="3"/><path d="M2682.0,837.8 A11.8,11.8 0 0 0 2705.6000000000004,837.8 Z" fill="#000" stroke-width="1"/><line x1="2694.3" y1="826.0" x2="2694.3" y2="837.8" stroke-width="2.4"/></g>
<g><circle cx="3208.2" cy="820.9" r="11.8" fill="#fff" stroke-width="3"/><path d="M3196.3999999999996,820.9 A11.8,11.8 0 0 0 3220.0,820.9 Z" fill="#000" stroke-width="1"/><line x1="3208.7" y1="809.1" x2="3208.7" y2="820.9" stroke-width="2.4"/></g>
<g><circle cx="3684.9" cy="807.4" r="11.8" fill="#fff" stroke-width="3"/><path d="M3673.1,807.4 A11.8,11.8 0 0 0 3696.7000000000003,807.4 Z" fill="#000" stroke-width="1"/><line x1="3685.4" y1="795.6" x2="3685.4" y2="807.4" stroke-width="2.4"/></g>
<g><circle cx="2928.5" cy="1006.7" r="11.8" fill="#fff" stroke-width="3"/><path d="M2916.7,1006.7 A11.8,11.8 0 0 0 2940.3,1006.7 Z" fill="#000" stroke-width="1"/><line x1="2929.0" y1="994.9000000000001" x2="2929.0" y2="1006.7" stroke-width="2.4"/></g>
<g><circle cx="3428.6" cy="1017.5" r="11.8" fill="#fff" stroke-width="3"/><path d="M3416.7999999999997,1017.5 A11.8,11.8 0 0 0 3440.4,1017.5 Z" fill="#000" stroke-width="1"/><line x1="3429.1" y1="1005.7" x2="3429.1" y2="1017.5" stroke-width="2.4"/></g>
<g><circle cx="2458.2" cy="830.4" r="11.6" stroke-width="1.4"/><polyline points="2453.0,835.6 2453.0,825.1999999999999 2458.2,834.9 2463.3999999999996,825.1999999999999 2463.3999999999996,835.6" stroke-width="1.5" stroke-linejoin="miter"/></g>
<g><circle cx="2448.3" cy="963" r="11.6" stroke-width="1.4"/><polyline points="2443.1000000000004,968.2 2443.1000000000004,957.8 2448.3,967.5 2453.5,957.8 2453.5,968.2" stroke-width="1.5" stroke-linejoin="miter"/></g>
<g><circle cx="3032.8" cy="1012.6" r="11.6" stroke-width="1.4"/><polyline points="3027.6000000000004,1017.8000000000001 3027.6000000000004,1007.4 3032.8,1017.1 3038.0,1007.4 3038.0,1017.8000000000001" stroke-width="1.5" stroke-linejoin="miter"/></g>
<g><circle cx="3602.7" cy="1026.2" r="11.6" stroke-width="1.4"/><polyline points="3597.5,1031.4 3597.5,1021.0 3602.7,1030.7 3607.8999999999996,1021.0 3607.8999999999996,1031.4" stroke-width="1.5" stroke-linejoin="miter"/></g>
<g><circle cx="3681.2" cy="1033.2" r="11.6" stroke-width="1.4"/><polyline points="3676.0,1038.4 3676.0,1028.0 3681.2,1037.7 3686.3999999999996,1028.0 3686.3999999999996,1038.4" stroke-width="1.5" stroke-linejoin="miter"/></g>
<g stroke-width="1.1"><circle cx="2474" cy="976.4" r="11.7" stroke-width="1.3"/><line x1="2474" y1="964.6999999999999" x2="2474" y2="977.4" stroke-width="1.4"/><path d="M2471,977.4 A3,3 0 0 0 2477,977.4"/><path d="M2469,977.4 A5,5 0 0 0 2479,977.4"/><path d="M2467,977.4 A7,7 0 0 0 2481,977.4"/><path d="M2465,977.4 A9,9 0 0 0 2483,977.4"/></g>
<g stroke-width="1.1"><circle cx="2378.3" cy="1220.6" r="11.7" stroke-width="1.3"/><line x1="2378.3" y1="1208.8999999999999" x2="2378.3" y2="1221.6" stroke-width="1.4"/><path d="M2375.3,1221.6 A3,3 0 0 0 2381.3,1221.6"/><path d="M2373.3,1221.6 A5,5 0 0 0 2383.3,1221.6"/><path d="M2371.3,1221.6 A7,7 0 0 0 2385.3,1221.6"/><path d="M2369.3,1221.6 A9,9 0 0 0 2387.3,1221.6"/></g>
<rect x="2425" y="838.5" width="10.5" height="7.600000000000023" fill="#fff" stroke-width="2.0" stroke-linejoin="miter"/>
<rect x="2419.1" y="941.4" width="15.200000000000273" height="14.0" fill="#fff" stroke-width="2.5" stroke-linejoin="miter"/>
<rect x="3252.8" y="817.8" width="15.399999999999636" height="15.400000000000091" fill="#fff" stroke-width="2.5" stroke-linejoin="miter"/>
<rect x="3249.4" y="996.9" width="14.099999999999909" height="14.700000000000045" fill="#fff" stroke-width="2.5" stroke-linejoin="miter"/>
<text transform="translate(2425.6,914.3) scale(0.846,1)" font-family="Liberation Mono, monospace" font-size="28" fill="#000" stroke="none">As 334.9</text>
<text transform="translate(3432.6,947.4) scale(0.872,1)" font-family="Liberation Mono, monospace" font-size="28" fill="#000" stroke="none">334.9</text>
<rect x="3417" y="935.6" width="3.6" height="3.6" fill="#000" stroke="none"/>
<text transform="translate(2999.0,892) scale(0.833,1)" font-family="Liberation Mono, monospace" font-size="23" fill="#000" stroke="none">As</text>
<text transform="translate(2189.3,753.5) scale(0.833,1)" font-family="Liberation Mono, monospace" font-size="22.5" fill="#000" stroke="none">R</text>
<text transform="translate(2296.4,1185.5) scale(0.833,1)" font-family="Liberation Mono, monospace" font-size="22.5" fill="#000" stroke="none">R</text>
<text transform="translate(2442,864.2) scale(0.833,1)" font-family="Liberation Mono, monospace" font-size="22.5" fill="#000" stroke="none">R</text>
<text transform="translate(2437.4,941.4) scale(0.833,1)" font-family="Liberation Mono, monospace" font-size="22.5" fill="#000" stroke="none">R</text>
<text transform="translate(3713,1028.9) scale(0.833,1)" font-family="Liberation Mono, monospace" font-size="22.5" fill="#000" stroke="none">R</text>
<text transform="translate(2401.6,911) rotate(-90) scale(0.833,1)" font-family="Liberation Mono, monospace" font-size="22" fill="#000" stroke="none">6.5</text>
<polyline points="2404.8,846.6 2404.8,933.2" stroke-width="1.0" />
<polyline points="2403.5,846.6 2408.0,856.8" stroke-width="1.0" />
<polyline points="2399.0,918.5 2403.5,933.2" stroke-width="1.0" />
<g transform="translate(769.3,617.0) scale(0.04776) translate(-817,-450)" stroke-linecap="butt" stroke-linejoin="miter"><path d="M470,195 Q352,320 352,450 Q352,580 470,705" stroke-width="38" stroke-linecap="round"/><path d="M1158,195 Q1282,320 1282,450 Q1282,580 1158,705" stroke-width="38" stroke-linecap="round"/><polyline points="810,175 810,255" stroke-width="48"/><polyline points="550,262 1065,262" stroke-width="48"/><polyline points="572,240 572,365" stroke-width="48"/><polyline points="1048,240 1048,340" stroke-width="48"/><polyline points="735,290 710,380 600,445" stroke-width="48"/><polyline points="880,290 880,395 1010,395 1035,370" stroke-width="48"/><polyline points="595,520 1010,520" stroke-width="48"/><polyline points="805,520 805,685" stroke-width="48"/><polyline points="545,685 1070,685" stroke-width="48"/></g>
<g transform="translate(1460,630) scale(0.04776) translate(-817,-450)" stroke-linecap="butt" stroke-linejoin="miter"><path d="M470,195 Q352,320 352,450 Q352,580 470,705" stroke-width="38" stroke-linecap="round"/><path d="M1158,195 Q1282,320 1282,450 Q1282,580 1158,705" stroke-width="38" stroke-linecap="round"/><polyline points="810,175 810,255" stroke-width="48"/><polyline points="550,262 1065,262" stroke-width="48"/><polyline points="572,240 572,365" stroke-width="48"/><polyline points="1048,240 1048,340" stroke-width="48"/><polyline points="735,290 710,380 600,445" stroke-width="48"/><polyline points="880,290 880,395 1010,395 1035,370" stroke-width="48"/><polyline points="595,520 1010,520" stroke-width="48"/><polyline points="805,520 805,685" stroke-width="48"/><polyline points="545,685 1070,685" stroke-width="48"/></g>
<g transform="translate(987,1048.5) scale(0.04776) translate(-817,-450)" stroke-linecap="butt" stroke-linejoin="miter"><path d="M470,195 Q352,320 352,450 Q352,580 470,705" stroke-width="38" stroke-linecap="round"/><path d="M1158,195 Q1282,320 1282,450 Q1282,580 1158,705" stroke-width="38" stroke-linecap="round"/><polyline points="810,175 810,255" stroke-width="48"/><polyline points="550,262 1065,262" stroke-width="48"/><polyline points="572,240 572,365" stroke-width="48"/><polyline points="1048,240 1048,340" stroke-width="48"/><polyline points="735,290 710,380 600,445" stroke-width="48"/><polyline points="880,290 880,395 1010,395 1035,370" stroke-width="48"/><polyline points="595,520 1010,520" stroke-width="48"/><polyline points="805,520 805,685" stroke-width="48"/><polyline points="545,685 1070,685" stroke-width="48"/></g>
<g transform="translate(1627,1045) scale(0.04776) translate(-817,-450)" stroke-linecap="butt" stroke-linejoin="miter"><path d="M470,195 Q352,320 352,450 Q352,580 470,705" stroke-width="38" stroke-linecap="round"/><path d="M1158,195 Q1282,320 1282,450 Q1282,580 1158,705" stroke-width="38" stroke-linecap="round"/><polyline points="810,175 810,255" stroke-width="48"/><polyline points="550,262 1065,262" stroke-width="48"/><polyline points="572,240 572,365" stroke-width="48"/><polyline points="1048,240 1048,340" stroke-width="48"/><polyline points="735,290 710,380 600,445" stroke-width="48"/><polyline points="880,290 880,395 1010,395 1035,370" stroke-width="48"/><polyline points="595,520 1010,520" stroke-width="48"/><polyline points="805,520 805,685" stroke-width="48"/><polyline points="545,685 1070,685" stroke-width="48"/></g>
<rect x="3654.8" y="990.3" width="20.8" height="9.1" stroke-width="3.0" stroke-linejoin="miter"/>
<polyline points="3663.9,990.3 3663.9,1021.9" stroke-width="2.8" stroke-linecap="butt"/>
<polyline points="3689.6,1021.5 3749.1,1043.6 3749.1,1046.0" stroke-width="3.4" />
<circle cx="3708.1" cy="1030.6" r="3.1" fill="#000" stroke="none"/>
<circle cx="3730.2" cy="1038.4" r="3.1" fill="#000" stroke="none"/>
<circle cx="3744.6" cy="1044.6" r="3.1" fill="#000" stroke="none"/>
<path d="M2494.2,831.5 V828.6 A3.2,3.2 0 0 1 2500.6,828.6 V831.5" stroke-width="2.4"/>
<circle cx="2518.4" cy="834.5" r="2.7" fill="#000" stroke="none"/>
<path d="M2524.2,832.5 L2528.2,832.5 A2.4,2.4 0 0 1 2528.2,837.3 L2524.8,837.3" stroke-width="1.2"/>
<polyline points="2434.3,944.9 2508.5,964.7" stroke-width="1.1" />
<text x="2510.5" y="976.5" font-family="Liberation Sans, sans-serif" font-size="13" fill="#000" stroke="none">s</text>
<polyline points="2478.0,950.2 2498.0,953.0" stroke-width="2.4" stroke-linecap="butt"/>
</svg>
</body></html>
